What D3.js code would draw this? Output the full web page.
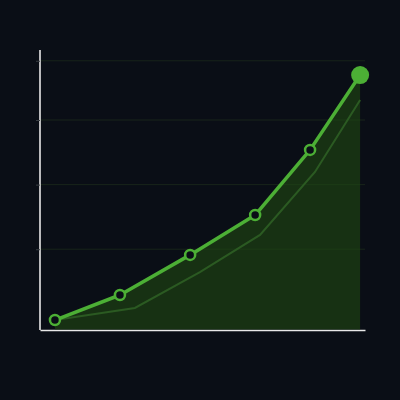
<!DOCTYPE html>
<html>
<head>
<meta charset="utf-8">
<script src="https://cdn.jsdelivr.net/npm/d3@7"></script>
<style>
  html, body { margin: 0; padding: 0; background: #0a0e16; }
  svg { display: block; }
</style>
</head>
<body>
<div id="chart"></div>
<script>
// data
const mainX = [4.6, 24.6, 46.2, 66.2, 83.1, 98.5]
const mainY = [3.7, 13.0, 27.9, 42.7, 66.9, 94.7]
const prevX = [4.6, 29.2, 49.2, 67.7, 84.6, 98.5]
const prevY = [3.7, 8.2, 21.5, 35.3, 58.7, 85.4]
const yTicks = [30, 54, 78, 100]

const width = 400
const height = 400
const margin = {top: 50, right: 35, bottom: 70, left: 40}

const svg = d3.select("#chart").append("svg")
    .attr("width", width)
    .attr("height", height)

svg.append("rect")
    .attr("width", width)
    .attr("height", height)
    .attr("fill", "#0a0e16")

const xScale = d3.scaleLinear()
    .domain([0, 100])
    .range([margin.left, width - margin.right])

const yScale = d3.scaleLinear()
    .domain([0, 104])
    .range([height - margin.bottom, margin.top])

const mainData = mainX.map((x, i) => ({x, y: mainY[i]}))
const prevData = prevX.map((x, i) => ({x, y: prevY[i]}))

// gridlines
svg.append("g")
    .selectAll("line")
    .data(yTicks)
    .join("line")
        .attr("x1", margin.left)
        .attr("x2", width - margin.right)
        .attr("y1", d => yScale(d))
        .attr("y2", d => yScale(d))
        .attr("stroke", "#18241a")
        .attr("stroke-width", 1)

// axes
const yAxis = d3.axisLeft(yScale)
    .tickValues(yTicks)
    .tickSize(4)
    .tickFormat("")

const xAxis = d3.axisBottom(xScale)
    .tickValues([])
    .tickSizeOuter(0)

const yGroup = svg.append("g")
    .attr("transform", `translate(${margin.left},0)`)
    .call(yAxis)
yGroup.select(".domain").attr("stroke", "#e8e8e8").attr("stroke-width", 1.6)
    .attr("d", `M0,${yScale(0)}V${margin.top}`)
yGroup.selectAll(".tick line").attr("stroke", "#3a3f44")

const xGroup = svg.append("g")
    .attr("transform", `translate(0,${yScale(0)})`)
    .call(xAxis)
xGroup.select(".domain").attr("stroke", "#e8e8e8").attr("stroke-width", 1.6)

// area under main series
const area = d3.area()
    .x(d => xScale(d.x))
    .y0(yScale(0) - 0.5)
    .y1(d => yScale(d.y))

svg.append("path")
    .datum(mainData)
    .attr("fill", "#1f4a12")
    .attr("fill-opacity", 0.6)
    .attr("d", area)

const line = d3.line()
    .x(d => xScale(d.x))
    .y(d => yScale(d.y))

// previous series (dim)
svg.append("path")
    .datum(prevData)
    .attr("fill", "none")
    .attr("stroke", "#2b5a22")
    .attr("stroke-width", 2)
    .attr("d", line)

// main series
svg.append("path")
    .datum(mainData)
    .attr("fill", "none")
    .attr("stroke", "#4caf35")
    .attr("stroke-width", 3.5)
    .attr("stroke-linejoin", "round")
    .attr("d", line)

// markers
svg.append("g")
    .selectAll("circle")
    .data(mainData.slice(0, -1))
    .join("circle")
        .attr("cx", d => xScale(d.x))
        .attr("cy", d => yScale(d.y))
        .attr("r", 5)
        .attr("fill", "#0a0e16")
        .attr("stroke", "#4caf35")
        .attr("stroke-width", 2.5)

const last = mainData[mainData.length - 1]
svg.append("circle")
    .attr("cx", xScale(last.x))
    .attr("cy", yScale(last.y))
    .attr("r", 9)
    .attr("fill", "#4caf35")
</script>
</body>
</html>
